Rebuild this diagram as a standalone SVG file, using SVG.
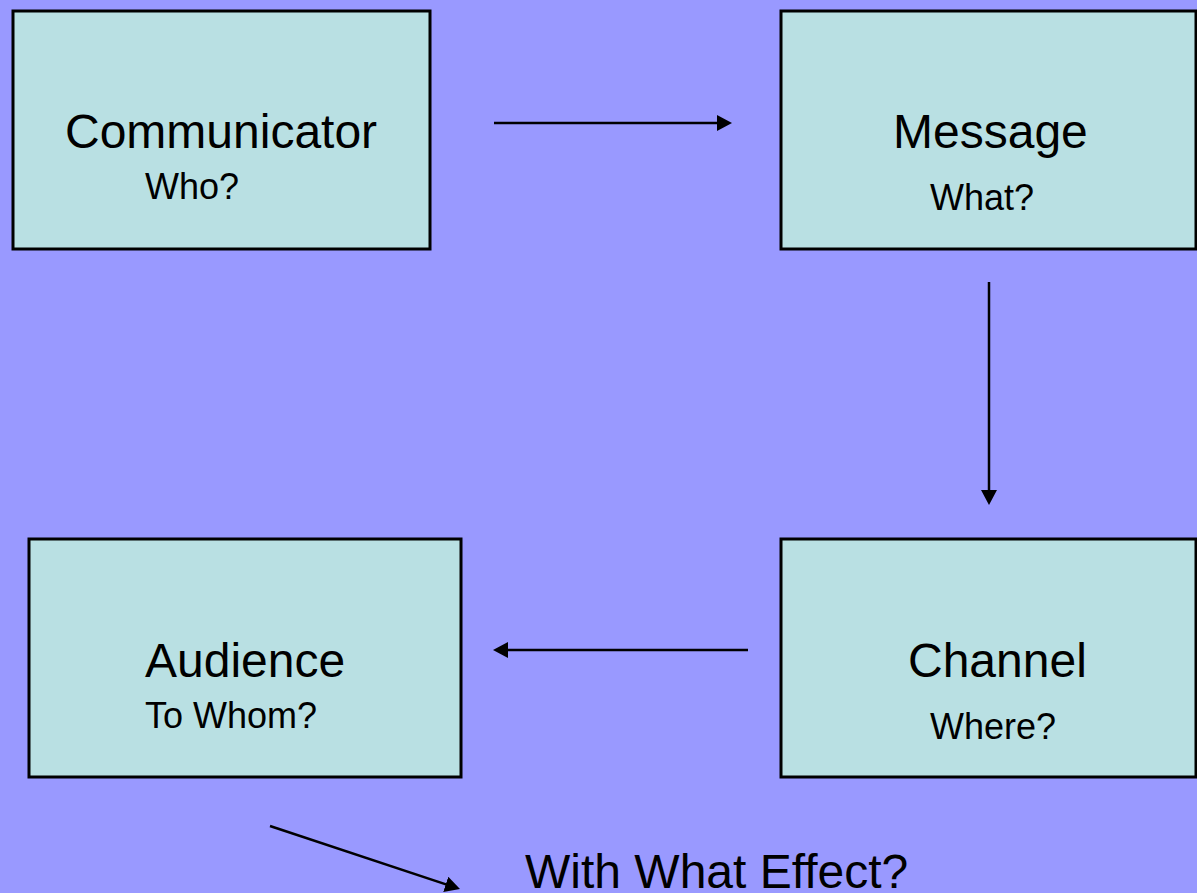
<svg xmlns="http://www.w3.org/2000/svg" width="1197" height="893" viewBox="0 0 1197 893">
  <style>
    .box { fill: #B9E0E3; stroke: #000000; stroke-width: 3; }
    .title { font-family: "Liberation Sans", Arial, sans-serif; font-size: 48px; fill: #000000; }
    .sub { font-family: "Liberation Sans", Arial, sans-serif; font-size: 36px; fill: #000000; }
    .link { stroke: #000000; stroke-width: 2.5; fill: none; marker-end: url(#head); }
  </style>
  <defs>
    <marker id="head" markerUnits="userSpaceOnUse" markerWidth="15" markerHeight="16" refX="5" refY="8" orient="auto">
      <path d="M0,0 L15,8 L0,16 Z" fill="#000000"/>
    </marker>
  </defs>

  <!-- page background -->
  <rect x="0" y="0" width="1197" height="893" fill="#9999FF"/>

  <g id="communicator">
    <rect class="box" x="13" y="11" width="417" height="238"/>
    <text class="title" x="65" y="148">Communicator</text>
    <text class="sub" x="145" y="199">Who?</text>
  </g>

  <g id="message">
    <rect class="box" x="781" y="11" width="415" height="238"/>
    <text class="title" x="893" y="148">Message</text>
    <text class="sub" x="930" y="210">What?</text>
  </g>

  <g id="channel">
    <rect class="box" x="781" y="539" width="415" height="238"/>
    <text class="title" x="908" y="677">Channel</text>
    <text class="sub" x="930" y="739">Where?</text>
  </g>

  <g id="audience">
    <rect class="box" x="29" y="539" width="432" height="238"/>
    <text class="title" x="145" y="677">Audience</text>
    <text class="sub" x="145" y="728">To Whom?</text>
  </g>

  <g id="effect">
    <text class="title" x="525" y="888">With What Effect?</text>
  </g>

  <!-- connectors: each line stops 10px short of its tip, the marker carries the rest -->
  <g id="connectors">
    <line class="link" x1="494" y1="123" x2="722" y2="123"/>
    <line class="link" x1="989" y1="282" x2="989" y2="495"/>
    <line class="link" x1="748" y1="650" x2="503" y2="650"/>
    <line class="link" x1="270" y1="826" x2="450.5" y2="885.9"/>
  </g>
</svg>
